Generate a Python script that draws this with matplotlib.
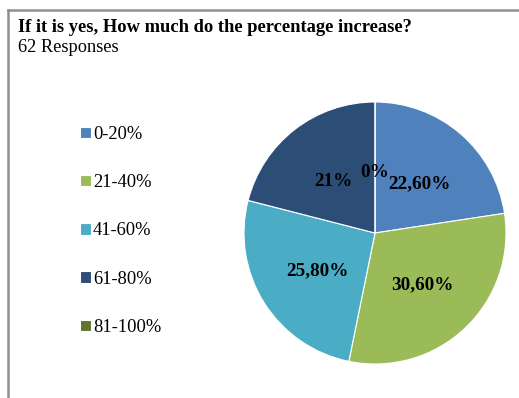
import matplotlib
matplotlib.use('Agg')
import matplotlib.pyplot as plt
from matplotlib.lines import Line2D
import numpy as np

plt.rcParams['font.family'] = 'Liberation Serif'

categories = ['0-20%', '21-40%', '41-60%', '61-80%', '81-100%']
shares = [22.6, 30.6, 25.8, 21.0, 0.0]
colors = ['#4F81BD', '#9BBB59', '#4BACC6', '#2C4D75', '#5F7530']
title = 'If it is yes, How much do the percentage increase?'
subtitle = '62 Responses'


def pct_label(v):
    if float(v).is_integer():
        return f'{int(v)}%'
    return f'{v:.2f}'.replace('.', ',') + '%'


fig = plt.figure(figsize=(5.19, 3.98), dpi=100)

# gray frame on top and left
fig.add_artist(Line2D([8 / 519, 1], [1 - 10 / 398, 1 - 10 / 398], color='#909090', lw=1.8))
fig.add_artist(Line2D([8 / 519, 8 / 519], [0, 1 - 10 / 398], color='#909090', lw=1.8))

fig.text(18 / 519, 1 - 27 / 398, title, fontsize=13.3, fontweight='bold', va='center', ha='left')
fig.text(18 / 519, 1 - 48 / 398, subtitle, fontsize=13.2, va='center', ha='left')

ax = fig.add_axes([244 / 519, 34 / 398, 262 / 519, 262 / 398])
wedges, texts = ax.pie(shares, colors=colors, startangle=90, counterclock=False,
                       wedgeprops=dict(edgecolor='white', linewidth=0.8))
ax.set_xlim(-1, 1)
ax.set_ylim(-1, 1)
ax.set_aspect('equal')

for w, v in zip(wedges, shares):
    ang = np.deg2rad((w.theta1 + w.theta2) / 2)
    r = 0.52 if v > 0 else 0.48
    ax.text(r * np.cos(ang), r * np.sin(ang) - 0.015, pct_label(v), ha='center', va='center',
            fontsize=13.8, fontweight='bold')

fig.legend(wedges, categories, loc='upper left', bbox_to_anchor=(80 / 519, 1 - 126 / 398),
           frameon=False, fontsize=13.3, handlelength=0.58, handleheight=0.58,
           handletextpad=0.12, labelspacing=1.69, borderaxespad=0, borderpad=0)

fig.savefig('out.png', dpi=100)
